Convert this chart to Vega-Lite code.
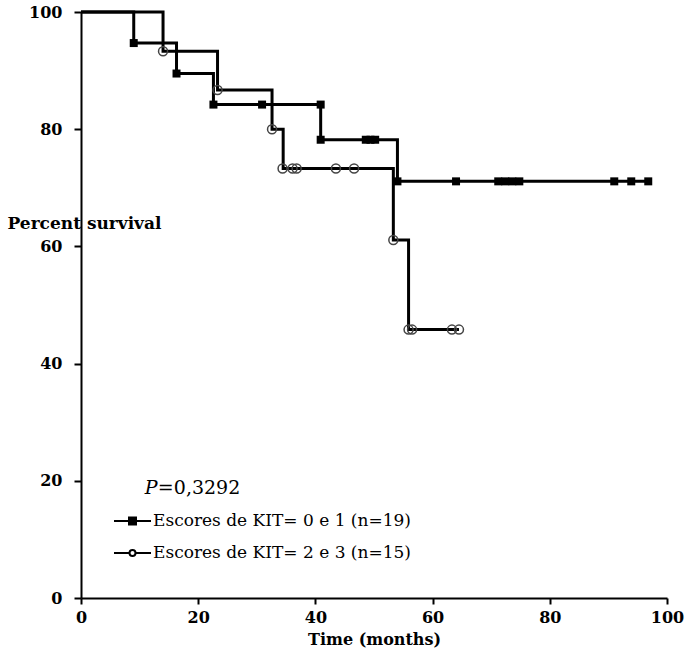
{
  "$schema": "https://vega.github.io/schema/vega-lite/v6.json",
  "width": 586,
  "height": 586,
  "autosize": "none",
  "padding": {"left": 81, "top": 12, "right": 18, "bottom": 57},
  "config": {"view": {"stroke": null}, "font": "DejaVu Serif"},
  "datasets": {
    "curve": [
      {"group": "Escores de KIT= 0 e 1 (n=19)", "time": 0, "survival": 100},
      {"group": "Escores de KIT= 0 e 1 (n=19)", "time": 9.0, "survival": 94.7},
      {"group": "Escores de KIT= 0 e 1 (n=19)", "time": 16.3, "survival": 89.5},
      {"group": "Escores de KIT= 0 e 1 (n=19)", "time": 22.6, "survival": 84.2},
      {"group": "Escores de KIT= 0 e 1 (n=19)", "time": 40.9, "survival": 78.2},
      {"group": "Escores de KIT= 0 e 1 (n=19)", "time": 54.0, "survival": 71.1},
      {"group": "Escores de KIT= 0 e 1 (n=19)", "time": 97.2, "survival": 71.1},
      {"group": "Escores de KIT= 2 e 3 (n=15)", "time": 0, "survival": 100},
      {"group": "Escores de KIT= 2 e 3 (n=15)", "time": 14.0, "survival": 93.3},
      {"group": "Escores de KIT= 2 e 3 (n=15)", "time": 23.3, "survival": 86.7},
      {"group": "Escores de KIT= 2 e 3 (n=15)", "time": 32.6, "survival": 80.0},
      {"group": "Escores de KIT= 2 e 3 (n=15)", "time": 34.5, "survival": 73.3},
      {"group": "Escores de KIT= 2 e 3 (n=15)", "time": 53.3, "survival": 61.1},
      {"group": "Escores de KIT= 2 e 3 (n=15)", "time": 55.9, "survival": 45.8},
      {"group": "Escores de KIT= 2 e 3 (n=15)", "time": 64.5, "survival": 45.8}
    ],
    "squares": [
      {"group": "Escores de KIT= 0 e 1 (n=19)", "time": 9.0, "survival": 94.7},
      {"group": "Escores de KIT= 0 e 1 (n=19)", "time": 16.3, "survival": 89.5},
      {"group": "Escores de KIT= 0 e 1 (n=19)", "time": 22.6, "survival": 84.2},
      {"group": "Escores de KIT= 0 e 1 (n=19)", "time": 30.9, "survival": 84.2},
      {"group": "Escores de KIT= 0 e 1 (n=19)", "time": 40.9, "survival": 84.2},
      {"group": "Escores de KIT= 0 e 1 (n=19)", "time": 40.9, "survival": 78.2},
      {"group": "Escores de KIT= 0 e 1 (n=19)", "time": 48.6, "survival": 78.2},
      {"group": "Escores de KIT= 0 e 1 (n=19)", "time": 49.4, "survival": 78.2},
      {"group": "Escores de KIT= 0 e 1 (n=19)", "time": 50.2, "survival": 78.2},
      {"group": "Escores de KIT= 0 e 1 (n=19)", "time": 54.0, "survival": 71.1},
      {"group": "Escores de KIT= 0 e 1 (n=19)", "time": 64.0, "survival": 71.1},
      {"group": "Escores de KIT= 0 e 1 (n=19)", "time": 71.2, "survival": 71.1},
      {"group": "Escores de KIT= 0 e 1 (n=19)", "time": 72.4, "survival": 71.1},
      {"group": "Escores de KIT= 0 e 1 (n=19)", "time": 73.6, "survival": 71.1},
      {"group": "Escores de KIT= 0 e 1 (n=19)", "time": 74.8, "survival": 71.1},
      {"group": "Escores de KIT= 0 e 1 (n=19)", "time": 91.0, "survival": 71.1},
      {"group": "Escores de KIT= 0 e 1 (n=19)", "time": 93.9, "survival": 71.1},
      {"group": "Escores de KIT= 0 e 1 (n=19)", "time": 96.8, "survival": 71.1}
    ],
    "circles": [
      {"group": "Escores de KIT= 2 e 3 (n=15)", "time": 14.0, "survival": 93.3},
      {"group": "Escores de KIT= 2 e 3 (n=15)", "time": 23.3, "survival": 86.7},
      {"group": "Escores de KIT= 2 e 3 (n=15)", "time": 32.6, "survival": 80.0},
      {"group": "Escores de KIT= 2 e 3 (n=15)", "time": 34.4, "survival": 73.3},
      {"group": "Escores de KIT= 2 e 3 (n=15)", "time": 36.1, "survival": 73.3},
      {"group": "Escores de KIT= 2 e 3 (n=15)", "time": 36.8, "survival": 73.3},
      {"group": "Escores de KIT= 2 e 3 (n=15)", "time": 43.5, "survival": 73.3},
      {"group": "Escores de KIT= 2 e 3 (n=15)", "time": 46.6, "survival": 73.3},
      {"group": "Escores de KIT= 2 e 3 (n=15)", "time": 53.3, "survival": 61.1},
      {"group": "Escores de KIT= 2 e 3 (n=15)", "time": 55.9, "survival": 45.8},
      {"group": "Escores de KIT= 2 e 3 (n=15)", "time": 56.5, "survival": 45.8},
      {"group": "Escores de KIT= 2 e 3 (n=15)", "time": 63.3, "survival": 45.8},
      {"group": "Escores de KIT= 2 e 3 (n=15)", "time": 64.5, "survival": 45.8}
    ],
    "annot": [
      {"time": 10.9, "survival": 18.8, "p": "P", "rest": "=0,3292"}
    ]
  },
  "layer": [
    {
      "data": {"name": "curve"},
      "mark": {"type": "line", "interpolate": "step-after", "strokeWidth": 3, "color": "black"},
      "encoding": {
        "x": {
          "field": "time", "type": "quantitative",
          "scale": {"domain": [0, 100], "nice": false, "zero": false},
          "axis": {
            "title": "Time (months)", "values": [0, 20, 40, 60, 80, 100], "grid": false,
            "domainColor": "black", "domainWidth": 2, "tickColor": "black", "tickWidth": 2, "tickSize": 6,
            "labelFont": "DejaVu Serif", "labelFontWeight": "bold", "labelFontSize": 16, "labelColor": "black",
            "labelPadding": 5, "labelFlush": false,
            "titleFont": "DejaVu Serif", "titleFontWeight": "bold", "titleFontSize": 16, "titleColor": "black", "titlePadding": 6
          }
        },
        "y": {
          "field": "survival", "type": "quantitative",
          "scale": {"domain": [0, 100], "nice": false, "zero": false},
          "axis": {
            "title": "Percent survival", "values": [0, 20, 40, 60, 80, 100], "grid": false,
            "domainColor": "black", "domainWidth": 2, "tickColor": "black", "tickWidth": 2, "tickSize": 7,
            "labelFont": "DejaVu Serif", "labelFontWeight": "bold", "labelFontSize": 16, "labelColor": "black",
            "labelPadding": 12,
            "titleFont": "DejaVu Serif", "titleFontWeight": "bold", "titleFontSize": 17, "titleColor": "black",
            "titleAngle": 0, "titleAlign": "left", "titleBaseline": "middle", "titleX": -74, "titleY": 211
          }
        },
        "detail": {"field": "group"}
      }
    },
    {
      "data": {"name": "curve"},
      "mark": {"type": "point", "filled": true, "opacity": 0, "strokeWidth": 2},
      "encoding": {
        "x": {"field": "time", "type": "quantitative"},
        "y": {"field": "survival", "type": "quantitative"},
        "shape": {
          "field": "group", "type": "nominal",
          "scale": {"domain": ["Escores de KIT= 0 e 1 (n=19)", "Escores de KIT= 2 e 3 (n=15)"], "range": ["M-2.7,0H1M-1.2,-0.35H-0.5V0.35H-1.2Z", "M-2.7,0H-1.15M-0.55,0H1M-0.55,0A0.3,0.3 0 1,1 -1.15,0A0.3,0.3 0 1,1 -0.55,0Z"]},
          "legend": {
            "orient": "none", "legendX": 49, "legendY": 498, "title": null, "padding": 0,
            "labelFont": "DejaVu Serif", "labelFontSize": 17, "labelColor": "black", "labelOffset": 1, "labelLimit": 0,
            "rowPadding": 13, "symbolSize": 400, "symbolOpacity": 1, "symbolStrokeWidth": 2
          }
        },
        "fill": {
          "field": "group", "type": "nominal",
          "scale": {"domain": ["Escores de KIT= 0 e 1 (n=19)", "Escores de KIT= 2 e 3 (n=15)"], "range": ["black", "white"]},
          "legend": {
            "orient": "none", "legendX": 49, "legendY": 498, "title": null, "padding": 0,
            "labelFont": "DejaVu Serif", "labelFontSize": 17, "labelColor": "black", "labelOffset": 1, "labelLimit": 0,
            "rowPadding": 13, "symbolSize": 400, "symbolOpacity": 1, "symbolStrokeWidth": 2
          }
        },
        "stroke": {
          "field": "group", "type": "nominal",
          "scale": {"domain": ["Escores de KIT= 0 e 1 (n=19)", "Escores de KIT= 2 e 3 (n=15)"], "range": ["black", "black"]},
          "legend": {
            "orient": "none", "legendX": 49, "legendY": 498, "title": null, "padding": 0,
            "labelFont": "DejaVu Serif", "labelFontSize": 17, "labelColor": "black", "labelOffset": 1, "labelLimit": 0,
            "rowPadding": 13, "symbolSize": 400, "symbolOpacity": 1, "symbolStrokeWidth": 2
          }
        }
      }
    },
    {
      "data": {"name": "squares"},
      "mark": {"type": "point", "shape": "square", "filled": true, "color": "black", "opacity": 1, "size": 64},
      "encoding": {
        "x": {"field": "time", "type": "quantitative"},
        "y": {"field": "survival", "type": "quantitative"}
      }
    },
    {
      "data": {"name": "circles"},
      "mark": {"type": "point", "shape": "circle", "filled": false, "color": "#444444", "strokeWidth": 1.5, "opacity": 1, "size": 81},
      "encoding": {
        "x": {"field": "time", "type": "quantitative"},
        "y": {"field": "survival", "type": "quantitative"}
      }
    },
    {
      "data": {"name": "annot"},
      "mark": {"type": "text", "align": "left", "baseline": "middle", "font": "DejaVu Serif", "fontSize": 19, "fontStyle": "italic", "color": "black"},
      "encoding": {
        "x": {"field": "time", "type": "quantitative"},
        "y": {"field": "survival", "type": "quantitative"},
        "text": {"field": "p"}
      }
    },
    {
      "data": {"name": "annot"},
      "mark": {"type": "text", "align": "left", "baseline": "middle", "font": "DejaVu Serif", "fontSize": 19, "dx": 13, "color": "black"},
      "encoding": {
        "x": {"field": "time", "type": "quantitative"},
        "y": {"field": "survival", "type": "quantitative"},
        "text": {"field": "rest"}
      }
    }
  ]
}
